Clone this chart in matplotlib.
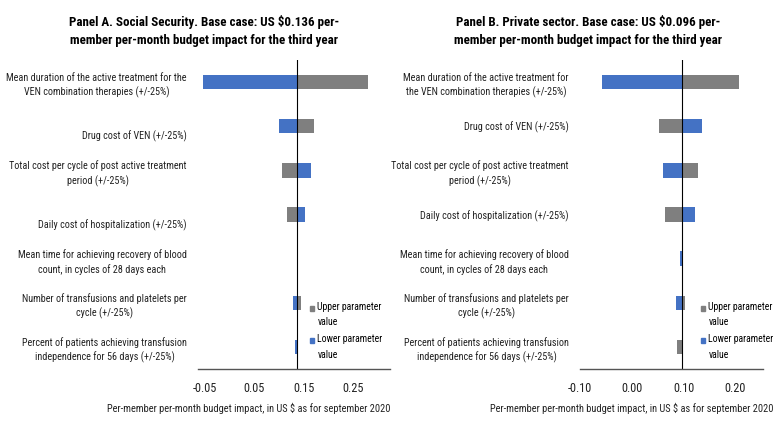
#!/usr/bin/env python3
# Tornado charts: one-way sensitivity of the VEN budget impact (two panels)

#### IMPORTS ###########################
import matplotlib
matplotlib.use("Agg")
import matplotlib.pyplot as plt
import matplotlib.transforms as mtrans
from matplotlib.patches import Patch, Rectangle
from matplotlib.legend_handler import HandlerPatch

# Narrow font, like the Arial Narrow of the original
plt.rcParams['font.family'] = ['Roboto Condensed', 'DejaVu Sans']


##### DATA #############################
labels_a = ["Mean duration of the active treatment for the\nVEN combination therapies (+/-25%)",
            "\nDrug cost of VEN (+/-25%)",
            "Total cost per cycle of post active treatment\nperiod (+/-25%)",
            "\nDaily cost of hospitalization (+/-25%)",
            "Mean time for achieving recovery of blood\ncount, in cycles of 28 days each",
            "Number of transfusions and platelets per\ncycle (+/-25%)",
            "Percent of patients achieving transfusion\nindependence for 56 days (+/-25%)"]
labels_b = ["Mean duration of the active treatment for\nthe VEN combination therapies (+/-25%)",
            "Drug cost of VEN (+/-25%)",
            "Total cost per cycle of post active treatment\nperiod (+/-25%)",
            "Daily cost of hospitalization (+/-25%)",
            "Mean time for achieving recovery of blood\ncount, in cycles of 28 days each",
            "Number of transfusions and platelets per\ncycle (+/-25%)",
            "Percent of patients achieving transfusion\nindependence for 56 days (+/-25%)"]

### Panel A (Social Security), base case 0.136
base_a  = 0.136
upper_a = [0.280, 0.171, 0.107, 0.117, 0.1375, 0.144, 0.1385]
lower_a = [-0.054, 0.100, 0.164, 0.153, 0.136, 0.129, 0.1325]
ticks_a = [-0.05, 0.05, 0.15, 0.25]

### Panel B (Private sector), base case 0.096
base_b  = 0.096
upper_b = [0.207, 0.053, 0.127, 0.0646, 0.0995, 0.1025, 0.088]
lower_b = [-0.058, 0.1345, 0.0607, 0.122, 0.093, 0.085, 0.098]
ticks_b = [-0.10, 0.00, 0.10, 0.20]

titles = ["Panel A. Social Security. Base case: US $0.136 per-\nmember per-month budget impact for the third year",
          "Panel B. Private sector. Base case: US $0.096 per-\nmember per-month budget impact for the third year"]
xlabel = "Per-member per-month budget impact, in US $ as for september 2020"

GRAY = "#7f7f7f"
BLUE = "#4472c4"


##### FUNCTIONS ########################
def px(x0, y0, x1, y1):
    # pixel box (from top-left) -> figure fraction rect
    return [x0/W, 1-y1/H, (x1-x0)/W, (y1-y0)/H]

def top_square(legend, orig_handle, xdescent, ydescent, width, height, fontsize):
    # legend marker next to the first line of a two-line label
    return Rectangle((-xdescent, -ydescent + 5), width, height)


##### PLOT #############################
W, H = 776, 422
fig = plt.figure(figsize=(W/100, H/100), dpi=100)

ax_a = fig.add_axes(px(198, 60, 390, 369))
ax_b = fig.add_axes(px(580, 60, 763, 369))

panels = [(ax_a, labels_a, base_a, upper_a, lower_a, ticks_a, (-0.064, 0.325), 4),
          (ax_b, labels_b, base_b, upper_b, lower_b, ticks_b, (-0.10, 0.253), 0)]

for ax, labs, base, up, lo, ticks, xlim, shift in panels:
    pos = list(range(len(labs)))
    up_w = [u - base for u in up]
    lo_w = [l - base for l in lo]
    ax.barh(pos, up_w, left=base, height=0.33, color=GRAY)
    ax.barh(pos, lo_w, left=base, height=0.33, color=BLUE)
    ax.axvline(base, color="black", lw=0.8)
    ax.set_xlim(*xlim)
    ax.set_ylim(len(labs)-0.5, -0.5)
    ax.set_yticks(pos)
    ax.set_yticklabels(labs, fontsize=7.3, color="#222222")
    off = mtrans.ScaledTranslation(0, -shift/100, fig.dpi_scale_trans)
    for t in ax.get_yticklabels():
        t.set_multialignment('center')
        t.set_linespacing(1.45)
        t.set_transform(t.get_transform() + off)
    ax.tick_params(axis='y', length=0, pad=8)
    ax.set_xticks(ticks)
    ax.set_xticklabels(["%.2f" % t for t in ticks], fontsize=8.8, color="#222222")
    ax.tick_params(axis='x', length=0, pad=9)
    for s in ['top', 'right', 'left']:
        ax.spines[s].set_visible(False)
    ax.spines['bottom'].set_color("#555555")
    ax.spines['bottom'].set_linewidth(1.0)
    ax.set_facecolor("none")

# Legends (upper first)
for xl in [310, 701]:
    leg = fig.legend(handles=[Patch(color=GRAY, label="Upper parameter\nvalue"),
                              Patch(color=BLUE, label="Lower parameter\nvalue")],
                     handler_map={Patch: HandlerPatch(patch_func=top_square)},
                     loc='upper left', bbox_to_anchor=(xl/W, 1-302/H), bbox_transform=fig.transFigure,
                     frameon=False, fontsize=7, handlelength=0.45, handleheight=0.45,
                     handletextpad=0.3, borderpad=0, borderaxespad=0, labelspacing=0.75)
    for t in leg.get_texts():
        t.set_linespacing(1.65)

# Titles and x labels
fig.text(204/W, 1-31/H, titles[0], ha='center', va='center', fontsize=9.4, weight='bold', linespacing=1.45)
fig.text(588/W, 1-31/H, titles[1], ha='center', va='center', fontsize=9.4, weight='bold', linespacing=1.45)
fig.text(249/W, 1-408/H, xlabel, ha='center', va='center', fontsize=7.5, color="#222222")
fig.text(632/W, 1-408/H, xlabel, ha='center', va='center', fontsize=7.5, color="#222222")

fig.savefig("out.png", dpi=100, facecolor="white")
